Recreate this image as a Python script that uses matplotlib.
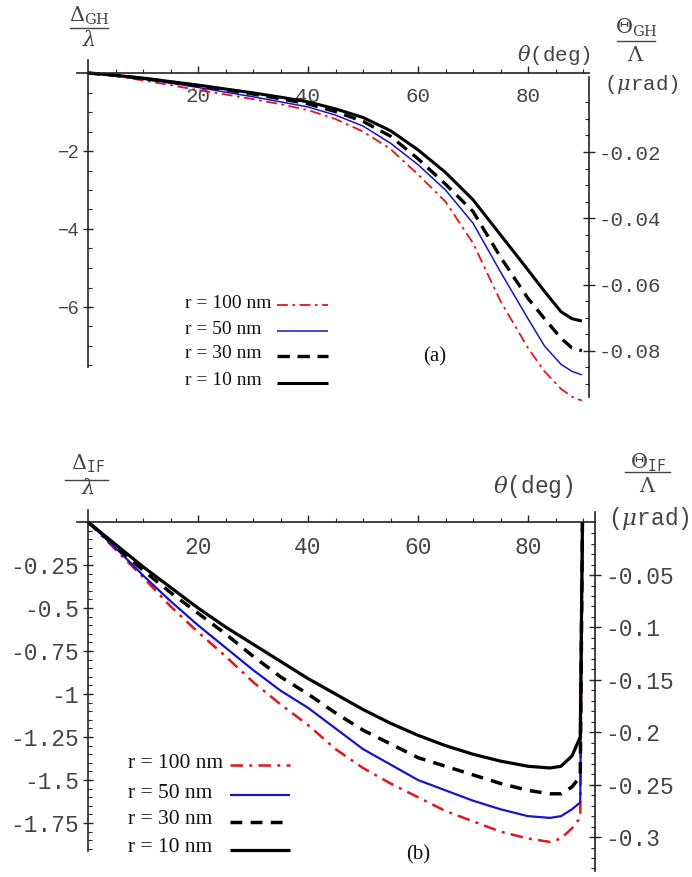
import matplotlib
matplotlib.use("Agg")
import matplotlib.pyplot as plt
from matplotlib.lines import Line2D
from matplotlib.ticker import FixedLocator

# ---------------- data ----------------
theta_a = [0, 5, 10, 15, 20, 25, 30, 35, 40, 45, 50, 55, 60, 65, 70, 75, 80, 83, 86, 88, 89.8]
gh_r100 = [0, -0.08, -0.19, -0.31, -0.44, -0.55, -0.67, -0.80, -0.95, -1.18, -1.50, -1.95, -2.60, -3.30, -4.36, -5.85, -7.05, -7.65, -8.10, -8.30, -8.40]
gh_r50 = [0, -0.07, -0.16, -0.26, -0.37, -0.49, -0.61, -0.74, -0.87, -1.08, -1.36, -1.80, -2.35, -3.00, -3.85, -5.10, -6.30, -7.00, -7.47, -7.65, -7.74]
gh_r30 = [0, -0.06, -0.14, -0.23, -0.33, -0.43, -0.54, -0.66, -0.79, -0.99, -1.24, -1.62, -2.20, -2.85, -3.55, -4.72, -5.78, -6.30, -6.80, -7.05, -7.12]
gh_r10 = [0, -0.06, -0.13, -0.22, -0.31, -0.41, -0.51, -0.62, -0.74, -0.92, -1.14, -1.48, -1.97, -2.55, -3.25, -4.15, -5.05, -5.60, -6.12, -6.30, -6.36]

theta_b = [0, 5, 10, 15, 20, 25, 30, 35, 40, 45, 50, 55, 60, 65, 70, 75, 80, 84, 86, 88, 89.5, 89.9]
if_r100 = [0, -0.16, -0.32, -0.49, -0.64, -0.78, -0.93, -1.06, -1.18, -1.32, -1.43, -1.52, -1.60, -1.68, -1.74, -1.80, -1.84, -1.86, -1.84, -1.78, -1.72, 0]
if_r50 = [0, -0.15, -0.31, -0.46, -0.60, -0.73, -0.86, -0.98, -1.08, -1.20, -1.32, -1.41, -1.50, -1.56, -1.62, -1.67, -1.71, -1.72, -1.71, -1.67, -1.63, 0]
if_r30 = [0, -0.14, -0.28, -0.41, -0.53, -0.65, -0.78, -0.90, -1.00, -1.11, -1.21, -1.29, -1.37, -1.42, -1.47, -1.52, -1.56, -1.58, -1.58, -1.54, -1.48, 0]
if_r10 = [0, -0.13, -0.26, -0.38, -0.50, -0.61, -0.71, -0.81, -0.91, -1.00, -1.09, -1.17, -1.24, -1.30, -1.35, -1.39, -1.42, -1.43, -1.42, -1.36, -1.25, 0]

labels = ["r = 100 nm", "r = 50 nm", "r = 30 nm", "r = 10 nm"]
x_major = [20, 40, 60, 80]
gh_left_ticks = [-2, -4, -6]
gh_right_ticks = [-0.02, -0.04, -0.06, -0.08]
if_left_ticks = [-0.25, -0.5, -0.75, -1, -1.25, -1.5, -1.75]
if_right_ticks = [-0.05, -0.1, -0.15, -0.2, -0.25, -0.3]

# ---------------- style ----------------
W, H = 692, 877
TXT = "#444444"
SP = "#222222"
MONO = "Liberation Mono"
SERIF = "Liberation Serif"

styles_a = [
    dict(color="#e3141c", lw=1.3, dashes=(6, 2.5, 1.5, 2.5)),
    dict(color="#1414c8", lw=1.1),
    dict(color="black", lw=2.4, dashes=(3.7, 2.3)),
    dict(color="black", lw=2.2),
]
styles_b = [
    dict(color="#e3141c", lw=1.8, dashes=(5, 2.5, 1.2, 2.5)),
    dict(color="#1414c8", lw=1.6),
    dict(color="black", lw=2.5, dashes=(3.4, 2.4)),
    dict(color="black", lw=2.3),
]


def fx(x):
    return x / W


def fy(y):
    return 1 - y / H


plt.rcParams["mathtext.fontset"] = "dejavuserif"
fig = plt.figure(figsize=(W / 100, H / 100), dpi=100)


def setup(ax, xlim, ylim, lbounds, xbounds, left_ticks, left_minor, lfont, lsize,
          rlim, rbounds, right_ticks, right_minor, rsize, xsize):
    ax.set_xlim(*xlim)
    ax.set_ylim(*ylim)
    for s in ["top", "right"]:
        ax.spines[s].set_visible(False)
    ax.spines["left"].set_position(("data", 0))
    ax.spines["bottom"].set_position(("data", 0))
    ax.spines["left"].set_bounds(*lbounds)
    ax.spines["bottom"].set_bounds(*xbounds)
    for s in ["left", "bottom"]:
        ax.spines[s].set_color(SP)
        ax.spines[s].set_linewidth(1.2)
    ax.xaxis.set_major_locator(FixedLocator(x_major))
    ax.xaxis.set_minor_locator(FixedLocator([v for v in range(5, 91, 5) if v not in x_major]))
    ax.yaxis.set_major_locator(FixedLocator(left_ticks))
    ax.yaxis.set_minor_locator(FixedLocator(left_minor))
    ax.tick_params(axis="x", which="major", direction="in", length=5, width=1, color=SP,
                   pad=10, labelsize=xsize, labelcolor=TXT)
    ax.tick_params(axis="x", which="minor", direction="in", length=3, width=0.8, color=SP)
    ax.tick_params(axis="y", which="major", direction="inout", length=7, width=1, color=SP,
                   pad=3, labelsize=lsize, labelcolor=TXT)
    ax.tick_params(axis="y", which="minor", direction="in", length=3, width=0.8, color=SP)
    ax.set_xticklabels([str(v) for v in x_major], family=MONO)
    ax.set_yticklabels([("%g" % v).replace("-", "\u2212" if lfont != MONO else "-") for v in left_ticks],
                       family=lfont)
    ax.patch.set_alpha(0)

    ax2 = ax.twinx()
    ax2.set_ylim(*rlim)
    for s in ["top", "left", "bottom"]:
        ax2.spines[s].set_visible(False)
    ax2.spines["right"].set_bounds(*rbounds)
    ax2.spines["right"].set_color(SP)
    ax2.spines["right"].set_linewidth(1.2)
    ax2.yaxis.set_major_locator(FixedLocator(right_ticks))
    ax2.yaxis.set_minor_locator(FixedLocator(right_minor))
    ax2.tick_params(axis="y", which="major", direction="inout", length=8, width=1, color=SP,
                    pad=3, labelsize=rsize, labelcolor=TXT)
    ax2.tick_params(axis="y", which="minor", direction="in", length=3, width=0.8, color=SP)
    ax2.set_yticklabels(["%g" % v for v in right_ticks], family=MONO)
    return ax2


# ---------------- panel (a) ----------------
axa = fig.add_axes([fx(74.25), fy(408.4), 514.25 / W, 351.0 / H])
setup(axa, (-2.5, 91), (-8.6, 0.4), (-7.55, 0.33), (-2.0, 91),
      gh_left_ticks, [v * 0.5 for v in range(-15, 0) if v % 4 != 0], "Liberation Sans", 13.5,
      (-0.09735, 0.00854), (-0.0939, 0.0026), gh_right_ticks,
      [-0.005 * k for k in range(1, 19) if k % 4 != 0], 15, 15)
for yv, st in zip([gh_r100, gh_r50, gh_r30, gh_r10], styles_a):
    axa.plot(theta_a, yv, solid_capstyle="butt", dash_capstyle="butt", clip_on=False, **st)

# ---------------- panel (b) ----------------
axb = fig.add_axes([fx(74.25), fy(871.2), 520.85 / W, 366.4 / H])
setup(axb, (-2.5, 92.2), (-2.03, 0.1), (-1.91, 0.07), (-2.0, 92.2),
      if_left_ticks, [-0.05 * k for k in range(1, 39) if k % 5 != 0], MONO, 16.5,
      (-0.3326, 0.017), (-0.3326, 0.0101), if_right_ticks,
      [-0.01 * k for k in range(1, 34) if k % 5 != 0], 16.5, 16.5)
for yv, st in zip([if_r100, if_r50, if_r30, if_r10], styles_b):
    axb.plot(theta_b, yv, solid_capstyle="butt", dash_capstyle="butt", clip_on=False, **st)


# ---------------- axis titles ----------------
def frac(xc, y_num, y_line, y_den, x0, x1, num, den, size):
    fig.text(fx(xc), fy(y_num), num, ha="center", va="center", color=TXT, size=size,
             family=["DejaVu Sans"])
    fig.add_artist(Line2D([fx(x0), fx(x1)], [fy(y_line)] * 2, color=TXT, lw=1.0))
    fig.text(fx(xc), fy(y_den), den, ha="center", va="center", color=TXT, size=size,
             family=["DejaVu Sans"])


frac(89, 16, 28, 40, 70, 108, r"$\Delta_{\mathrm{GH}}$", r"$\lambda$", 15)
frac(636, 28, 41, 55, 617, 655, r"$\Theta_{\mathrm{GH}}$", r"$\Lambda$", 15)
frac(88, 464, 480, 488, 65, 108, r"$\Delta_{\mathtt{IF}}$", r"$\lambda$", 15)
frac(648, 463, 472, 486, 625, 670, r"$\Theta_{\mathtt{IF}}$", r"$\Lambda$", 15)

fig.text(fx(554), fy(55), r"$\theta$(deg)", ha="center", va="center", color=TXT, size=15, family=MONO)
fig.text(fx(641), fy(84), r"($\mu$rad)", ha="center", va="center", color=TXT, size=15, family=MONO)
fig.text(fx(533), fy(486), r"$\theta$(deg)", ha="center", va="center", color=TXT, size=16.5, family=MONO)
fig.text(fx(649), fy(519), r"($\mu$rad)", ha="center", va="center", color=TXT, size=16.5, family=MONO)


# ---------------- legends ----------------
def legend(x_text, rows, hx0, hx1, styles, size):
    for lab, yr, st in zip(labels, rows, styles):
        fig.text(fx(x_text), fy(yr), lab, ha="left", va="center", family=SERIF, size=size, color="#111111")
        fig.add_artist(Line2D([fx(hx0), fx(hx1)], [fy(yr + 2)] * 2, solid_capstyle="butt", **st))


legend(185, [303, 329, 354, 381], 277, 328, styles_a, 14)
legend(128, [763, 793, 820, 848], 230, 290, styles_b, 15.5)

fig.text(fx(435), fy(357), "(a)", ha="center", va="center", family=SERIF, size=15, color="#111111")
fig.text(fx(418), fy(855), "(b)", ha="center", va="center", family=SERIF, size=15, color="#111111")

fig.savefig("out.png", dpi=100)
